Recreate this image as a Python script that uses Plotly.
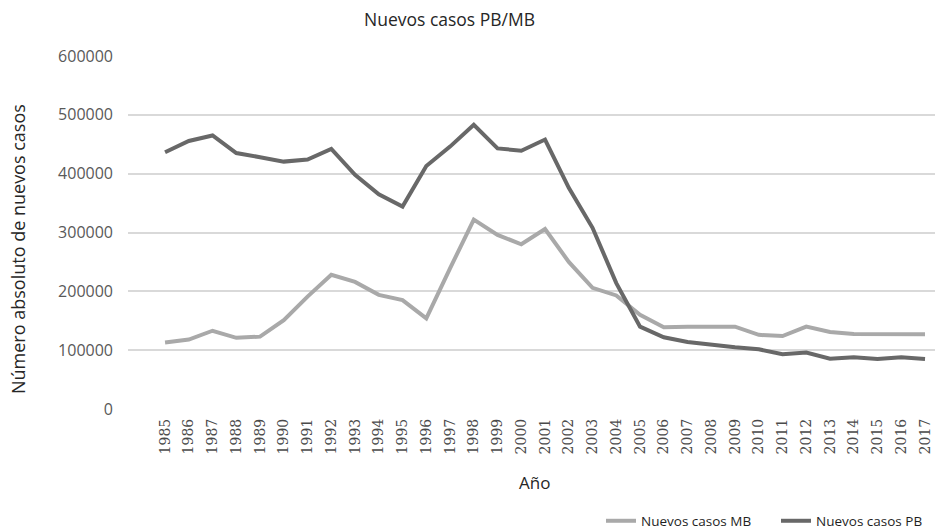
import plotly.graph_objects as go

years = list(range(1985, 2018))
casos_mb = [113000, 118000, 133000, 121000, 123000, 151000, 191000, 228000, 216000, 194000,
            185000, 154000, 239000, 322000, 296000, 280000, 306000, 250000, 206000, 193000,
            160000, 139000, 140000, 140000, 140000, 126000, 124000, 140000, 131000, 127500,
            127000, 127000, 127000]
casos_pb = [436500, 455500, 465000, 435000, 428000, 420500, 424000, 442000, 398000, 365000,
            344000, 413000, 446000, 483000, 443000, 439000, 458000, 376000, 308000, 214000,
            140000, 122000, 114000, 109000, 105000, 101500, 93000, 96000, 85500, 88000,
            85000, 88000, 85000]
y_ticks = [0, 100000, 200000, 300000, 400000, 500000, 600000]

W, H = 935, 532
ML, MR, MT, MB = 128, 0, 56, 123
PW, PH = W - ML - MR, H - MT - MB

def px(xp):
    return (xp - ML) / PW

def py(yp):
    return (H - MB - yp) / PH

fig = go.Figure()
fig.add_trace(go.Scatter(x=years, y=casos_mb, mode="lines", name="Nuevos casos MB",
                         line=dict(color="#a9a9a9", width=4), legend="legend"))
fig.add_trace(go.Scatter(x=years, y=casos_pb, mode="lines", name="Nuevos casos PB",
                         line=dict(color="#686868", width=4), legend="legend2"))

legend_common = dict(orientation="h", xanchor="left", yanchor="middle",
                     font=dict(size=13.5, color="#1f1f1f"), itemwidth=30,
                     bgcolor="rgba(0,0,0,0)")

fig.update_layout(
    width=W, height=H,
    margin=dict(l=ML, r=MR, t=MT, b=MB, autoexpand=False),
    paper_bgcolor="white", plot_bgcolor="white",
    font=dict(family="Open Sans", color="#404040"),
    showlegend=True,
    legend=dict(x=px(601), y=py(521), **legend_common),
    legend2=dict(x=px(776), y=py(521), **legend_common),
    annotations=[
        dict(text="Nuevos casos PB/MB", xref="paper", yref="paper", x=px(449), y=py(19),
             xanchor="center", yanchor="middle", showarrow=False,
             font=dict(size=17.5, color="#262626")),
        dict(text="Número absoluto de nuevos casos", xref="paper", yref="paper", x=px(18), y=py(249),
             xanchor="center", yanchor="middle", showarrow=False, textangle=-90,
             font=dict(size=18, color="#262626")),
        dict(text="Año", xref="paper", yref="paper", x=px(534), y=py(482),
             xanchor="center", yanchor="middle", showarrow=False,
             font=dict(size=17, color="#262626")),
    ],
)
fig.update_xaxes(
    range=[1983.44, 2017.42], tickmode="array", tickvals=years,
    ticktext=[str(y) for y in years], tickangle=-90, automargin=False,
    tickfont=dict(family="DejaVu Serif", size=14, color="#4a4a4a"),
    showgrid=False, zeroline=False, showline=False, ticks="", ticklabelstandoff=6,
)
fig.update_yaxes(
    range=[0, 600000], tickmode="array", tickvals=y_ticks,
    ticktext=[str(v) for v in y_ticks], automargin=False,
    tickfont=dict(size=16, color="#595959"),
    showgrid=True, gridcolor="#d9d9d9", gridwidth=1.5, zeroline=False, showline=False,
    ticks="", ticklabelstandoff=14,
)

fig.write_html("out.html", config={"displayModeBar": False},
               post_script="document.body.style.margin='0';")
